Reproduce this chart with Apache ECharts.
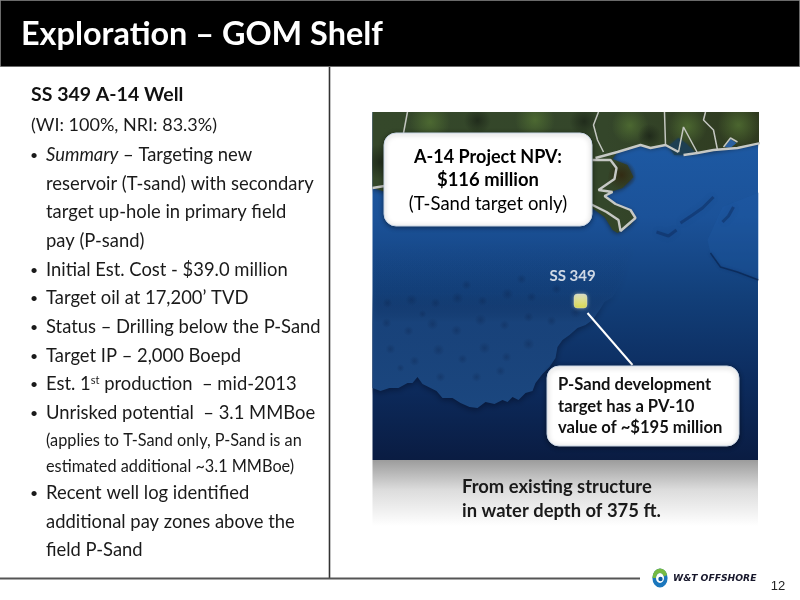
<!DOCTYPE html>
<html>
<head>
<meta charset="utf-8">
<style>html,body{margin:0;padding:0;background:#fff}#main{width:800px;height:600px}</style>
<script src="https://cdn.jsdelivr.net/npm/echarts@6/dist/echarts.min.js"></script>
</head>
<body>
<div id="main"></div>
<script>
var slideTitle = 'Exploration – GOM Shelf';
var pageNumber = '12';
var logoName = 'W&T OFFSHORE';

// left column, one entry per line of the slide
var wellTitle = 'SS 349 A-14 Well';
var wellShare = '(WI: 100%, NRI: 83.3%)';
var bulletLines = [
  {b: 1, t: '{i|Summary} – Targeting new'},
  {b: 0, t: 'reservoir (T-sand) with secondary'},
  {b: 0, t: 'target up-hole in primary field'},
  {b: 0, t: 'pay (P-sand)'},
  {b: 1, t: 'Initial Est. Cost - $39.0 million'},
  {b: 1, t: 'Target oil at 17,200’ TVD'},
  {b: 1, t: 'Status – Drilling below the P-Sand'},
  {b: 1, t: 'Target IP – 2,000 Boepd'},
  {b: 1, t: 'Est. 1{s|st} production  – mid-2013'},
  {b: 1, t: 'Unrisked potential  – 3.1 MMBoe'},
  {b: 0, t: '{m|(applies to T-Sand only, P-Sand is an}'},
  {b: 0, t: '{m|estimated additional ~3.1 MMBoe)}'},
  {b: 1, t: 'Recent well log identified'},
  {b: 0, t: 'additional pay zones above the'},
  {b: 0, t: 'field P-Sand'}
];
var bulletRows = [155, 184, 212, 241, 270, 298, 327, 356, 384, 413, 441, 467, 493, 522, 550];

var calloutNpv = ['A-14 Project NPV:', '$116 million'];
var calloutNpvNote = '(T-Sand target only)';
var calloutPv = ['P-Sand development', 'target has a PV-10', 'value of ~$195 million'];
var depthNote = ['From existing structure', 'in water depth of 375 ft.'];

// map outlines, in map units (x east, y south of the map corner)
var wellName = 'SS 349';
var wellPoint = [208, 189];
var leaderLine = [[215, 201], [260, 253]];
var landOutline = [[0,0],[388,0],[388,31],[365,35],[341,39],[325,41],[306,41],[293,33],[278,36],[268,33],[245,40],[240,47],[255,53],[261,65],[250,76],[238,80],[232,83],[243,92],[258,98],[263,106],[258,113],[245,121],[240,118],[232,105],[218,95],[100,110],[30,85],[0,76]];
var shelfOutline = [[0,130],[200,125],[262,130],[248,172],[240,185],[232,190],[227,198],[220,208],[213,213],[205,216],[197,223],[190,228],[185,235],[183,246],[177,255],[170,262],[163,271],[160,279],[153,281],[146,288],[140,285],[135,290],[130,288],[122,292],[113,290],[105,296],[97,295],[88,291],[80,286],[70,286],[64,279],[58,276],[50,272],[45,265],[40,271],[35,271],[26,276],[17,276],[8,279],[0,276]];
var plateauOutline = [[335,128],[338,141],[348,155],[365,160],[388,168],[388,80],[350,95]];
var plateauEdge = [[338,141],[348,155],[365,160],[386,168]];
var landPatches = [
  [[20,-10],[95,-10],[95,30],[20,30]],
  [[225,-5],[290,-5],[290,32],[225,32]],
  [[295,-5],[335,-5],[335,34],[295,34]],
  [[340,-8],[392,-8],[392,34],[340,34]],
  [[110,-12],[215,-12],[215,28],[110,28]]
];
var darkPatches = [
  [[-10,20],[25,20],[25,80],[-10,80]],
  [[85,-5],[125,-5],[125,22],[85,22]],
  [[195,-5],[228,-5],[228,24],[195,24]],
  [[262,12],[292,12],[292,36],[262,36]]
];
var marshOutline = [[240,46],[262,50],[264,70],[248,80],[234,72]];
var bayOutline = [[296,34],[306,26],[314,32],[324,42],[302,43]];
var sideBayOutline = [[352,35],[358,27],[364,31],[358,36]];
var stateLines = [
  [[35,0],[31,21]],
  [[226,0],[221,13],[225,28],[231,40]],
  [[292,0],[293,33]],
  [[306,40],[311,15],[318,28],[325,41]],
  [[333,0],[331,8],[341,18],[345,38]],
  [[351,35],[358,26],[365,30]]
];
var coastLines = [
  [[0,76],[12,74]],
  [[223,46],[245,40],[268,33],[278,36],[293,33],[306,40]],
  [[311,43],[325,41],[341,38],[365,36],[388,31]],
  [[220,48],[238,48],[244,56],[242,67],[226,78],[240,80],[232,84],[243,92],[258,98],[263,106],[256,112],[248,119],[246,108],[234,100],[218,92]]
];
// small dark hollows in the shelf relief, each one a little box
var shelfHollows = [
  [[6,186],[24,186],[24,196],[6,196]],[[30,182],[48,182],[48,194],[30,194]],[[54,186],[72,186],[72,196],[54,196]],
  [[76,180],[94,180],[94,192],[76,192]],[[100,184],[120,184],[120,194],[100,194]],[[126,176],[144,176],[144,188],[126,188]],
  [[148,180],[170,180],[170,190],[148,190]],[[174,172],[194,172],[194,182],[174,182]],
  [[4,206],[24,206],[24,216],[4,216]],[[26,214],[46,214],[46,224],[26,224]],[[50,206],[70,206],[70,218],[50,218]],
  [[74,213],[94,213],[94,224],[74,224]],[[98,202],[118,202],[118,214],[98,214]],[[122,208],[142,208],[142,218],[122,218]],
  [[146,200],[166,200],[166,210],[146,210]],[[170,204],[188,204],[188,214],[170,214]],
  [[8,232],[28,232],[28,242],[8,242]],[[32,244],[52,244],[52,254],[32,254]],[[56,232],[76,232],[76,244],[56,244]],
  [[80,242],[100,242],[100,252],[80,252]],[[102,230],[122,230],[122,242],[102,242]],[[124,240],[144,240],[144,250],[124,250]],
  [[146,226],[166,226],[166,238],[146,238]],[[94,260],[114,260],[114,270],[94,270]],[[118,254],[138,254],[138,264],[118,264]],
  [[58,260],[78,260],[78,270],[58,270]],[[18,252],[38,252],[38,260],[18,260]],[[40,198],[60,198],[60,206],[40,206]],
  [[194,194],[212,194],[212,206],[194,206]],[[84,168],[104,168],[104,178],[84,178]],[[138,162],[160,162],[160,172],[138,172]]
];
var slopeStrokes = [
  [[308,111],[320,103],[330,96],[341,85]],
  [[361,95],[356,104],[350,110]],
  [[284,120],[296,124],[304,118]]
];

var vline = 329.5;
var textFont = 'Lato';
var bodyRich = {
  i: {fontStyle: 'italic', fontFamily: textFont, fontSize: 18.4, fill: '#1a1a1a'},
  s: {fontSize: 11, fontFamily: textFont, fill: '#1a1a1a', verticalAlign: 'top', padding: [0, 0, 7, 0]},
  m: {fontSize: 16.3, fontFamily: textFont, fill: '#1a1a1a'}
};

function label(x, y, text, o) {
  o = o || {};
  return {
    type: 'text', x: x, y: y, z: o.z || 10, silent: true,
    style: {
      text: text, fill: o.fill || '#1a1a1a', fontFamily: o.font || textFont,
      fontSize: o.size || 18.4, fontWeight: o.weight || 'normal',
      fontStyle: o.style || 'normal',
      align: o.align || 'left', verticalAlign: 'middle', rich: o.rich
    }
  };
}
function callout(x, y, w, h) {
  return {
    type: 'rect', z: 9, silent: true,
    shape: {x: x, y: y, width: w, height: h, r: 12},
    style: {fill: '#fff', stroke: '#c9d6e6', lineWidth: 1, shadowBlur: 5, shadowColor: 'rgba(0,0,0,0.45)', shadowOffsetY: 1}
  };
}
function linear(stops, vertical) {
  return new echarts.graphic.LinearGradient(0, 0, vertical ? 0 : 1, vertical ? 1 : 0, stops);
}
function soft(color) {
  return new echarts.graphic.RadialGradient(0.5, 0.5, 0.5, [
    {offset: 0, color: color}, {offset: 1, color: color.replace(/[\d.]+\)$/, '0)')}
  ]);
}

var elements = [
  {type: 'rect', z: 8, shape: {x: 0.5, y: 0.5, width: 799, height: 66}, style: {fill: '#000', stroke: '#6a6a6a', lineWidth: 1}},
  label(21, 35, slideTitle, {fill: '#fff', size: 32.4, weight: 'bold'}),
  {type: 'line', z: 8, shape: {x1: vline, y1: 67, x2: vline, y2: 579}, style: {stroke: '#333', lineWidth: 1.6}},
  {type: 'line', z: 8, shape: {x1: 0, y1: 578.5, x2: 640, y2: 578.5}, style: {stroke: '#555', lineWidth: 2}},
  label(31, 95, wellTitle, {size: 19.5, weight: 'bold', fill: '#111'}),
  label(31, 125, wellShare, {size: 18}),
  {type: 'rect', z: 8, shape: {x: 372.5, y: 460, width: 385.5, height: 66},
    style: {fill: linear([{offset: 0, color: '#9c9c9c'}, {offset: 0.45, color: '#dcdcdc'}, {offset: 1, color: '#ffffff'}], true)}},
  label(462, 487, depthNote[0], {size: 18.4, weight: 'bold'}),
  label(462, 511, depthNote[1], {size: 18.4, weight: 'bold'}),
  callout(384, 133, 208, 93),
  label(488, 157, calloutNpv[0], {size: 18, weight: 'bold', align: 'center', fill: '#000'}),
  label(488, 180, calloutNpv[1], {size: 18.4, weight: 'bold', align: 'center', fill: '#000'}),
  label(488, 204, calloutNpvNote, {size: 18.5, align: 'center', fill: '#000'}),
  callout(547, 366, 192, 80),
  label(558, 385, calloutPv[0], {size: 16.6, weight: 'bold', fill: '#111'}),
  label(558, 407, calloutPv[1], {size: 16.6, weight: 'bold', fill: '#111'}),
  label(558, 428, calloutPv[2], {size: 16.6, weight: 'bold', fill: '#111'}),
  // logo swirl
  {type: 'ring', z: 8, scaleX: 0.8, originX: 660, originY: 578, shape: {cx: 660, cy: 578, r: 9.5, r0: 5}, style: {fill: '#1b77bd'}},
  {type: 'sector', z: 8, scaleX: 0.8, originX: 660, originY: 578, shape: {cx: 660, cy: 578, r: 9.5, r0: 5, startAngle: Math.PI * 1.0, endAngle: Math.PI * 1.9}, style: {fill: '#76ba44'}},
  {type: 'circle', z: 8, shape: {cx: 660.5, cy: 579, r: 2.2}, style: {fill: '#0f5c9e'}},
  label(673, 579, logoName, {size: 9.2, weight: 'bold', style: 'italic', font: 'DejaVu Sans', fill: '#16162a'}),
  label(778, 586, pageNumber, {size: 13, font: 'Liberation Sans', align: 'center', fill: '#222'})
];
bulletLines.forEach(function (l, i) {
  if (l.b) elements.push(label(30, bulletRows[i], '•', {size: 14}));
  elements.push(label(46, bulletRows[i], l.t, {rich: bodyRich}));
});

function polygonSeries(points, fill, shadow) {
  shadow = shadow || {};
  return {
    type: 'custom', coordinateSystem: 'cartesian2d', clip: true, silent: true, z: 2,
    data: [[0, 0]],
    renderItem: function (params, api) {
      return {
        type: 'polygon',
        shape: {points: points.map(function (p) { return api.coord(p); })},
        style: {fill: fill, shadowBlur: shadow.blur || 0, shadowColor: shadow.color || 'transparent', shadowOffsetY: shadow.dy || 0}
      };
    }
  };
}
function pathSeries(path, color, width, blur) {
  return {
    type: 'line', data: path, symbol: 'none', silent: true, z: 3,
    lineStyle: {color: color, width: width, shadowBlur: blur || 0, shadowColor: color}
  };
}

var series = [
  polygonSeries(plateauOutline, 'rgba(33,92,168,0.28)'),
  pathSeries(plateauEdge, 'rgba(6,24,60,0.5)', 1.4, 3),
  polygonSeries(shelfOutline, linear([{offset: 0, color: 'rgba(28,76,138,0)'}, {offset: 0.32, color: 'rgba(28,76,138,0.1)'}, {offset: 0.5, color: 'rgba(28,74,134,0.8)'}, {offset: 1, color: '#1b477f'}], true), {blur: 6, color: 'rgba(4,12,34,0.6)', dy: 2})
];
shelfHollows.forEach(function (p) { series.push(polygonSeries(p, soft('rgba(9,28,66,0.28)'))); });
slopeStrokes.forEach(function (l) { series.push(pathSeries(l, 'rgba(8,30,72,0.35)', 3, 6)); });
series.push(polygonSeries(landOutline, linear([{offset: 0, color: '#35482a'}, {offset: 0.6, color: '#34462a'}, {offset: 1, color: '#2f3a1f'}], false), {blur: 5, color: 'rgba(20,30,40,0.7)', dy: 1}));
landPatches.forEach(function (p) { series.push(polygonSeries(p, soft('rgba(84,116,52,0.75)'))); });
darkPatches.forEach(function (p) { series.push(polygonSeries(p, soft('rgba(22,30,20,0.65)'))); });
series.push(polygonSeries(marshOutline, soft('rgba(50,42,18,0.95)')));
series.push(polygonSeries(bayOutline, '#1e3f52', {blur: 3, color: '#1e3f52'}));
series.push(polygonSeries(sideBayOutline, '#2a5f9e'));
stateLines.forEach(function (l) { series.push(pathSeries(l, '#c3c6c0', 1.5)); });
coastLines.forEach(function (l) { series.push(pathSeries(l, '#c6c8c5', 2.4)); });
series.push(pathSeries(leaderLine, '#ffffff', 2));
series.push({
  type: 'scatter', z: 6, silent: true,
  data: [{name: wellName, value: wellPoint}],
  symbol: 'roundRect', symbolSize: [13, 14],
  itemStyle: {
    color: linear([{offset: 0, color: '#f8f5cf'}, {offset: 1, color: '#f8f23c'}], true),
    borderColor: '#ecebd8', borderWidth: 0.5,
    shadowBlur: 4, shadowColor: 'rgba(255,255,200,0.5)'
  },
  label: {show: true, formatter: '{b}', position: 'top', offset: [-8, -5], color: '#fff',
    fontFamily: textFont, fontWeight: 'bold', fontSize: 15}
});

var chart = echarts.init(document.getElementById('main'), null, {renderer: 'canvas'});
chart.setOption({
  animation: false,
  backgroundColor: '#fff',
  grid: {left: 372.5, top: 112, width: 385.5, height: 348, show: true, borderWidth: 0,
    backgroundColor: linear([
      {offset: 0, color: '#1e5ca7'}, {offset: 0.3, color: '#1b5299'},
      {offset: 0.53, color: '#123f79'}, {offset: 0.78, color: '#0c2b5d'}, {offset: 1, color: '#0a1c42'}
    ], true)},
  xAxis: {type: 'value', min: 0, max: 385.5, show: false},
  yAxis: {type: 'value', min: 0, max: 348, inverse: true, show: false},
  tooltip: {show: false},
  graphic: {elements: elements},
  series: series
});
</script>
</body>
</html>
